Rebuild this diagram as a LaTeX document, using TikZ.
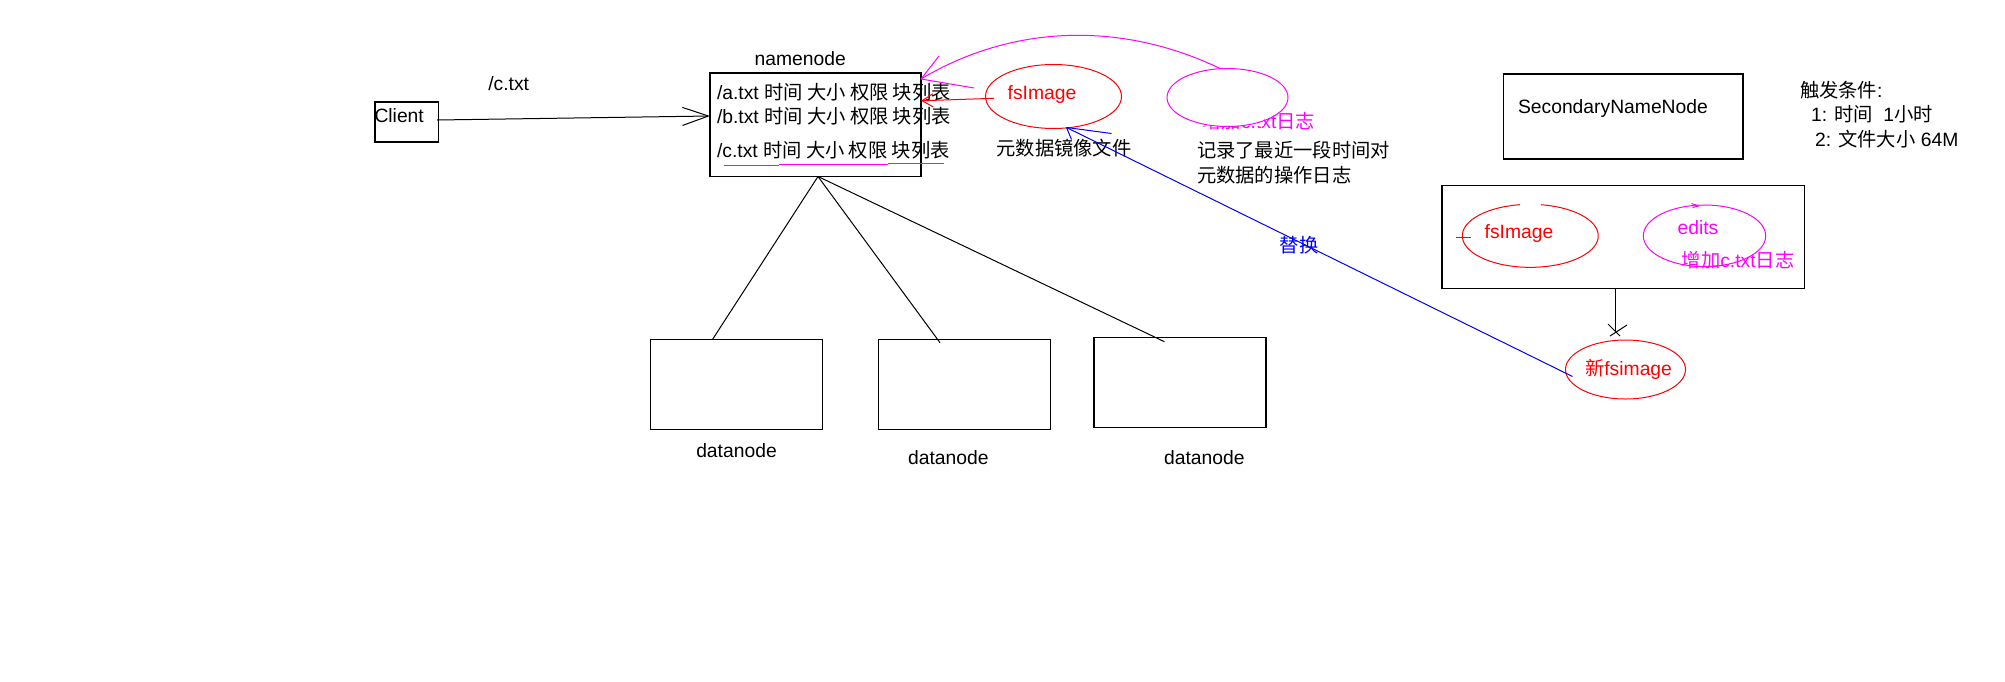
\documentclass[tikz,border=0pt]{standalone}
\usepackage{fontspec}
\setmainfont{Liberation Sans}
\newfontfamily\cjk{Noto Sans CJK SC}
\usetikzlibrary{shapes.geometric,arrows.meta,calc}
\definecolor{pred}{RGB}{255,0,0}
\definecolor{pmag}{RGB}{255,0,255}
\definecolor{pblue}{RGB}{0,0,255}
\begin{document}
\begin{tikzpicture}[x=1pt,y=-1pt,
  every node/.style={inner sep=0pt, outer sep=0pt, font=\fontsize{19.3}{22}\selectfont},
  box/.style={draw, line width=1.1pt, inner sep=0pt},
  ell/.style={ellipse, draw, line width=1pt, inner sep=0pt},
  ln/.style={line width=1pt},
  lbl/.style={anchor=base},
  lblw/.style={anchor=base west},
]
\useasboundingbox[fill=white] (0,0) rectangle (2005,681);

% boxes
\node[box, minimum width=63.5pt, minimum height=40pt] (client) at (406.75,122) {};
\node[box, minimum width=211pt, minimum height=103.5pt] (nn) at (815.5,124.75) {};
\node[box, minimum width=239.5pt, minimum height=85pt] (snn) at (1623.25,116.5) {};
\node[box, minimum width=362.3pt, minimum height=102.6pt] (lbox) at (1623.15,237) {};
\node[box, minimum width=171.6pt, minimum height=90pt] (dn1) at (736.6,384.3) {};
\node[box, minimum width=171.8pt, minimum height=90pt] (dn2) at (964.6,384.3) {};
\node[box, minimum width=172pt, minimum height=90pt] (dn3) at (1180,382.3) {};

% texts
\node[lbl] (tct) at (508.7,90.3) {/c.txt};
\node[lblw] (tcl) at (374.5,122) {Client};
\node[lbl] (tnn) at (800.3,65.3) {namenode};
\node[lblw] (ta) at (717,99.7) {/a.txt {\cjk 时间 大小 权限 块列表}};
\node[lblw] (tb) at (717,123) {/b.txt {\cjk 时间 大小 权限 块列表}};
\node[lblw] (tc) at (717,157) {/c.txt {\cjk 时间 大小 权限 块列表}};
\draw[pmag, ln] (724,165.3) -- (779,165.3) (779,164.3) -- (888,164.3) (888,163.3) -- (944,163.3);

% top ellipses
\node[ell, pred, minimum width=136pt, minimum height=64pt] (fs) at (1053.5,96.5) {};
\node[lbl, pred] (tfs) at (1042,99) {fsImage};
\node[lbl] (tmeta) at (1064,155) {\cjk 元数据镜像文件};
\node[anchor=base east, pmag] (thid) at (1315,128.5) {{\cjk 增加}c.txt{\cjk 日志}};
\fill[white] (1185,104) rectangle (1264,126);
\node[ell, pmag, minimum width=121pt, minimum height=58pt] (ed) at (1227.5,97.5) {};
\node[lblw] (tlog1) at (1197,157) {\cjk 记录了最近一段时间对};
\node[lblw] (tlog2) at (1197,182) {\cjk 元数据的操作日志};

% secondary namenode
\node[lblw] (tsnn) at (1518,113.7) {SecondaryNameNode};
\node[lblw] (tcond) at (1800,97.8) {{\cjk 触发条件}:};
\node[lblw] (tc1) at (1811,121.5) {1: {\cjk 时间}\hspace{10.6pt}1{\cjk 小时}};
\node[lblw] (tc2) at (1815,146) {2: {\cjk 文件大小} 64M};

\node[ellipse, inner sep=0pt, minimum width=136pt, minimum height=63pt] (lfs) at (1530.3,235.8) {};
\draw[pred, ln] (lfs.center) ++(-10.3,-31.1) arc[start angle=98.7, end angle=441, x radius=68pt, y radius=31.5pt];
\draw[pred, ln] ([xshift=-6.3pt,yshift=-1.5pt]lfs.west) -- ++(14.7,0);
\node[lbl, pred] (tlfs) at (1519,238.7) {fsImage};
\node[ell, pmag, minimum width=122.4pt, minimum height=61.6pt] (led) at (1704.5,235.8) {};
\draw[pmag, ln] (1691.5,203.5) -- (1698.5,206) -- (1692.5,207.5);
\node[lbl, pmag] (ted) at (1698,234.3) {edits};
\node[lbl, pmag] (tled) at (1738,267) {{\cjk 增加}c.txt{\cjk 日志}};

\node[ell, pred, minimum width=120pt, minimum height=59pt] (nfs) at (1625.5,369.5) {};
\node[lbl, pred] (tnfs) at (1628.5,375.3) {{\cjk 新}fsimage};
\node[lbl, pblue] (trep) at (1299,252) {\cjk 替换};

% datanode labels
\node[lbl] (td1) at (736.5,457) {datanode};
\node[lbl] (td2) at (948.3,464.7) {datanode};
\node[lbl] (td3) at (1204.3,464.7) {datanode};

% connectors
\draw[ln, -{Straight Barb[length=26pt,width=18pt]}] ([xshift=-1.5pt,yshift=2pt]client.east) -- ([yshift=8.75pt]nn.west);
\coordinate (nb) at ([xshift=2.5pt]nn.south);
\draw[ln] (nb) -- ([xshift=-24pt]dn1.north);
\draw[ln] (nb) -- ([xshift=-24.6pt,yshift=-3.4pt]dn2.north);
\draw[ln] (nb) -- ([xshift=-15.6pt,yshift=-4.4pt]dn3.north);

\draw[pred, ln, -{Straight Barb[length=11pt,width=13pt]}] ([xshift=8.5pt,yshift=-1.8pt]fs.west) -- ([yshift=24pt]nn.east);

\coordinate (mtip) at ([yshift=-6pt]nn.north east);
\draw[pmag, ln] ([xshift=-7.5pt]ed.north) .. controls (1130,25) and (1020,20) .. (mtip);
\draw[pmag, ln] (mtip) -- ++(18,-23) (mtip) -- ++(53,9);

\coordinate (btip) at ([xshift=13pt,yshift=1pt]fs.south);
\draw[pblue, ln] ([xshift=7pt,yshift=-7pt]nfs.west) -- (btip);
\draw[pblue, ln] (btip) -- ++(45,6) (btip) -- ++(5,12);

\coordinate (xt) at ([xshift=-9.8pt,yshift=7.7pt]nfs.north);
\draw[ln] (lbox.south -| xt) -- (xt);
\draw[ln] (xt) ++(-7.7,-8.3) -- ++(12,12) (xt) ++(11.3,-7.3) -- ++(-17,11);
\end{tikzpicture}
\end{document}
